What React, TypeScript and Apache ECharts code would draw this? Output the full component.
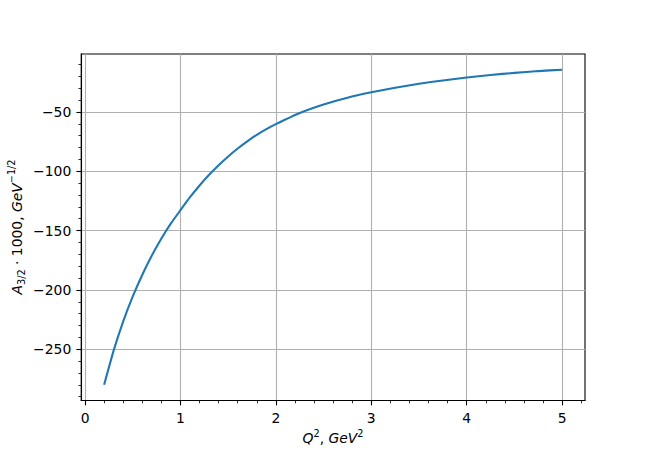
import React, { useEffect, useRef } from "react";
import * as echarts from "echarts";

// Q^2 values (GeV^2) and A_{3/2}*1000 values
const Q2 = [
  0.2, 0.3, 0.4, 0.5, 0.6, 0.7, 0.8, 0.9, 1.0, 1.1, 1.2, 1.3, 1.4, 1.5, 1.6,
  1.7, 1.8, 1.9, 2.0, 2.25, 2.5, 2.75, 3.0, 3.25, 3.5, 3.75, 4.0, 4.25, 4.5,
  4.75, 5.0,
];
const A32 = [
  -280, -251, -226.5, -205.5, -187.2, -171, -156.7, -144, -132.8, -121.9,
  -112.0, -103.0, -94.9, -87.5, -80.8, -74.8, -69.3, -64.5, -60.3, -50.9,
  -43.7, -38.0, -33.5, -29.6, -26.3, -23.5, -21.0, -18.9, -17.1, -15.6, -14.4,
];

const X_TICKS = [0, 1, 2, 3, 4, 5];
const Y_TICKS = [-250, -200, -150, -100, -50];
const X_RANGE = [-0.04, 5.24];
const Y_RANGE = [-293.2, -1.2];

const FONT = "DejaVu Sans";

export default function App() {
  const ref = useRef<HTMLDivElement>(null);

  useEffect(() => {
    if (!ref.current) return;
    const chart = echarts.init(ref.current, null, { renderer: "svg" });
    const fmt = (v: number) => (v < 0 ? "\u2212" + Math.abs(v) : String(v));
    const base = { fontSize: 13.9, fontFamily: FONT, fill: "#000", lineHeight: 20, verticalAlign: "middle" };
    const it = { ...base, fontStyle: "italic" };
    const sup = { fontSize: 9.7, fontFamily: FONT, fill: "#000", lineHeight: 12, verticalAlign: "top" };
    const sub = { fontSize: 9.7, fontFamily: FONT, fill: "#000", lineHeight: 12, verticalAlign: "bottom" };
    const rich = { n: base, i: it, sup, sub };

    chart.setOption({
      animation: false,
      backgroundColor: "#ffffff",
      grid: {
        left: 81.25,
        top: 54,
        width: 503.75,
        height: 346.5,
        show: true,
        borderColor: "#000",
        borderWidth: 1.1,
        backgroundColor: "transparent",
        containLabel: false,
        outerBoundsMode: "none",
      },
      xAxis: {
        type: "value",
        min: X_RANGE[0],
        max: X_RANGE[1],
        axisLine: { show: true, onZero: false, lineStyle: { color: "#000", width: 1.1 } },
        axisTick: {
          show: true,
          length: 4.86,
          customValues: X_TICKS,
          lineStyle: { color: "#000", width: 1.1 },
        },
        minorTick: {
          show: true,
          splitNumber: 5,
          length: 2.78,
          lineStyle: { color: "#000", width: 0.83 },
        },
        axisLabel: {
          customValues: X_TICKS,
          formatter: fmt,
          color: "#000",
          fontSize: 13.9,
          fontFamily: FONT,
          margin: 10,
        },
        splitLine: { show: true, lineStyle: { color: "#b0b0b0", width: 1.1 } },
        minorSplitLine: { show: false },
      },
      yAxis: {
        type: "value",
        min: Y_RANGE[0],
        max: Y_RANGE[1],
        axisLine: { show: true, onZero: false, lineStyle: { color: "#000", width: 1.1 } },
        axisTick: {
          show: true,
          length: 4.86,
          customValues: Y_TICKS,
          lineStyle: { color: "#000", width: 1.1 },
        },
        minorTick: {
          show: true,
          splitNumber: 5,
          length: 2.78,
          lineStyle: { color: "#000", width: 0.83 },
        },
        axisLabel: {
          customValues: Y_TICKS,
          formatter: fmt,
          color: "#000",
          fontSize: 13.9,
          fontFamily: FONT,
          margin: 10,
        },
        splitLine: { show: true, lineStyle: { color: "#b0b0b0", width: 1.1 } },
        minorSplitLine: { show: false },
      },
      graphic: [
        {
          type: "text",
          x: 333,
          y: 438,
          style: {
            text: "{i|Q}{sup|2}{n|, }{i|GeV}{sup|2}",
            rich,
            align: "center",
            verticalAlign: "middle",
            fontSize: 13.9,
            fontFamily: FONT,
            fill: "#000",
          },
        },
        {
          type: "text",
          x: 16.5,
          y: 227,
          rotation: Math.PI / 2,
          style: {
            text: "{i|A}{sub|3/2}{n| \u00b7 1000, }{i|GeV}{sup|\u22121/2}",
            rich,
            align: "center",
            verticalAlign: "middle",
            fontSize: 13.9,
            fontFamily: FONT,
            fill: "#000",
          },
        },
      ],
      series: [
        {
          type: "line",
          data: Q2.map((q, i) => [q, A32[i]]),
          showSymbol: false,
          symbol: "none",
          smooth: 0.2,
          clip: true,
          lineStyle: { color: "#1f77b4", width: 2.08 },
        },
      ],
    });

    return () => chart.dispose();
  }, []);

  return (
    <div
      ref={ref}
      style={{ position: "absolute", left: 0, top: 0, width: 650, height: 450 }}
    />
  );
}
